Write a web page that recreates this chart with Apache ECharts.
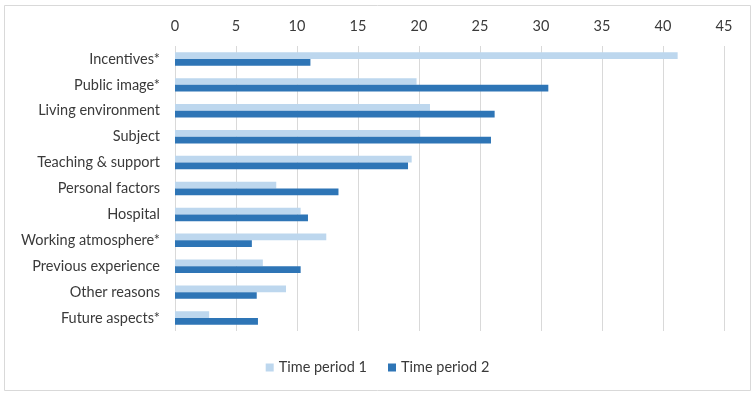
<!DOCTYPE html>
<html>
<head>
<meta charset="utf-8">
<script src="https://cdn.jsdelivr.net/npm/echarts@6/dist/echarts.min.js"></script>
<style>
html,body{margin:0;padding:0;background:#fff;}
#chart{width:755px;height:396px;}
</style>
</head>
<body>
<div id="chart"></div>
<script>
const categories = ["Incentives*","Public image*","Living environment","Subject","Teaching & support","Personal factors","Hospital","Working atmosphere*","Previous experience","Other reasons","Future aspects*"];
const period1 = [41.2, 19.8, 20.9, 20.1, 19.4, 8.3, 10.3, 12.4, 7.2, 9.1, 2.8];
const period2 = [11.1, 30.6, 26.2, 25.9, 19.1, 13.4, 10.9, 6.3, 10.3, 6.7, 6.8];
const seriesNames = ["Time period 1","Time period 2"];
const xTicks = {min:0, max:45, interval:5};

const chart = echarts.init(document.getElementById('chart'), null, {renderer:'canvas'});
const font = 'Lato, "Open Sans", sans-serif';
const fs = 14.5;
chart.setOption({
  animation:false,
  backgroundColor:'#ffffff',
  textStyle:{fontFamily:font},
  graphic:[{type:'rect',shape:{x:4.5,y:5.5,width:746,height:385},style:{fill:'none',stroke:'#d9d9d9',lineWidth:1},silent:true,z:-1}],
  grid:{left:175,right:31,top:46,bottom:65,containLabel:false},
  legend:{
    data:seriesNames,
    bottom:16,left:'center',
    itemWidth:8,itemHeight:8,itemGap:21,
    icon:'rect',
    textStyle:{fontFamily:font,fontSize:fs,color:'#3a3a3a'}
  },
  xAxis:{
    type:'value',position:'top',min:xTicks.min,max:xTicks.max,interval:xTicks.interval,
    axisLine:{show:false},axisTick:{show:false},
    axisLabel:{fontFamily:font,fontSize:fs,color:'#3a3a3a',margin:12},
    splitLine:{show:true,lineStyle:{color:'#d9d9d9',width:1}}
  },
  yAxis:{
    type:'category',data:categories,inverse:true,
    axisLine:{show:false},axisTick:{show:false},
    axisLabel:{fontFamily:font,fontSize:fs,color:'#3a3a3a',margin:15}
  },
  series:[
    {name:seriesNames[0],type:'bar',data:period1,itemStyle:{color:'#bdd7ee'},barGap:'0%',barCategoryGap:'48%'},
    {name:seriesNames[1],type:'bar',data:period2,itemStyle:{color:'#2e75b6'},barGap:'0%',barCategoryGap:'48%'}
  ]
});
</script>
</body>
</html>
